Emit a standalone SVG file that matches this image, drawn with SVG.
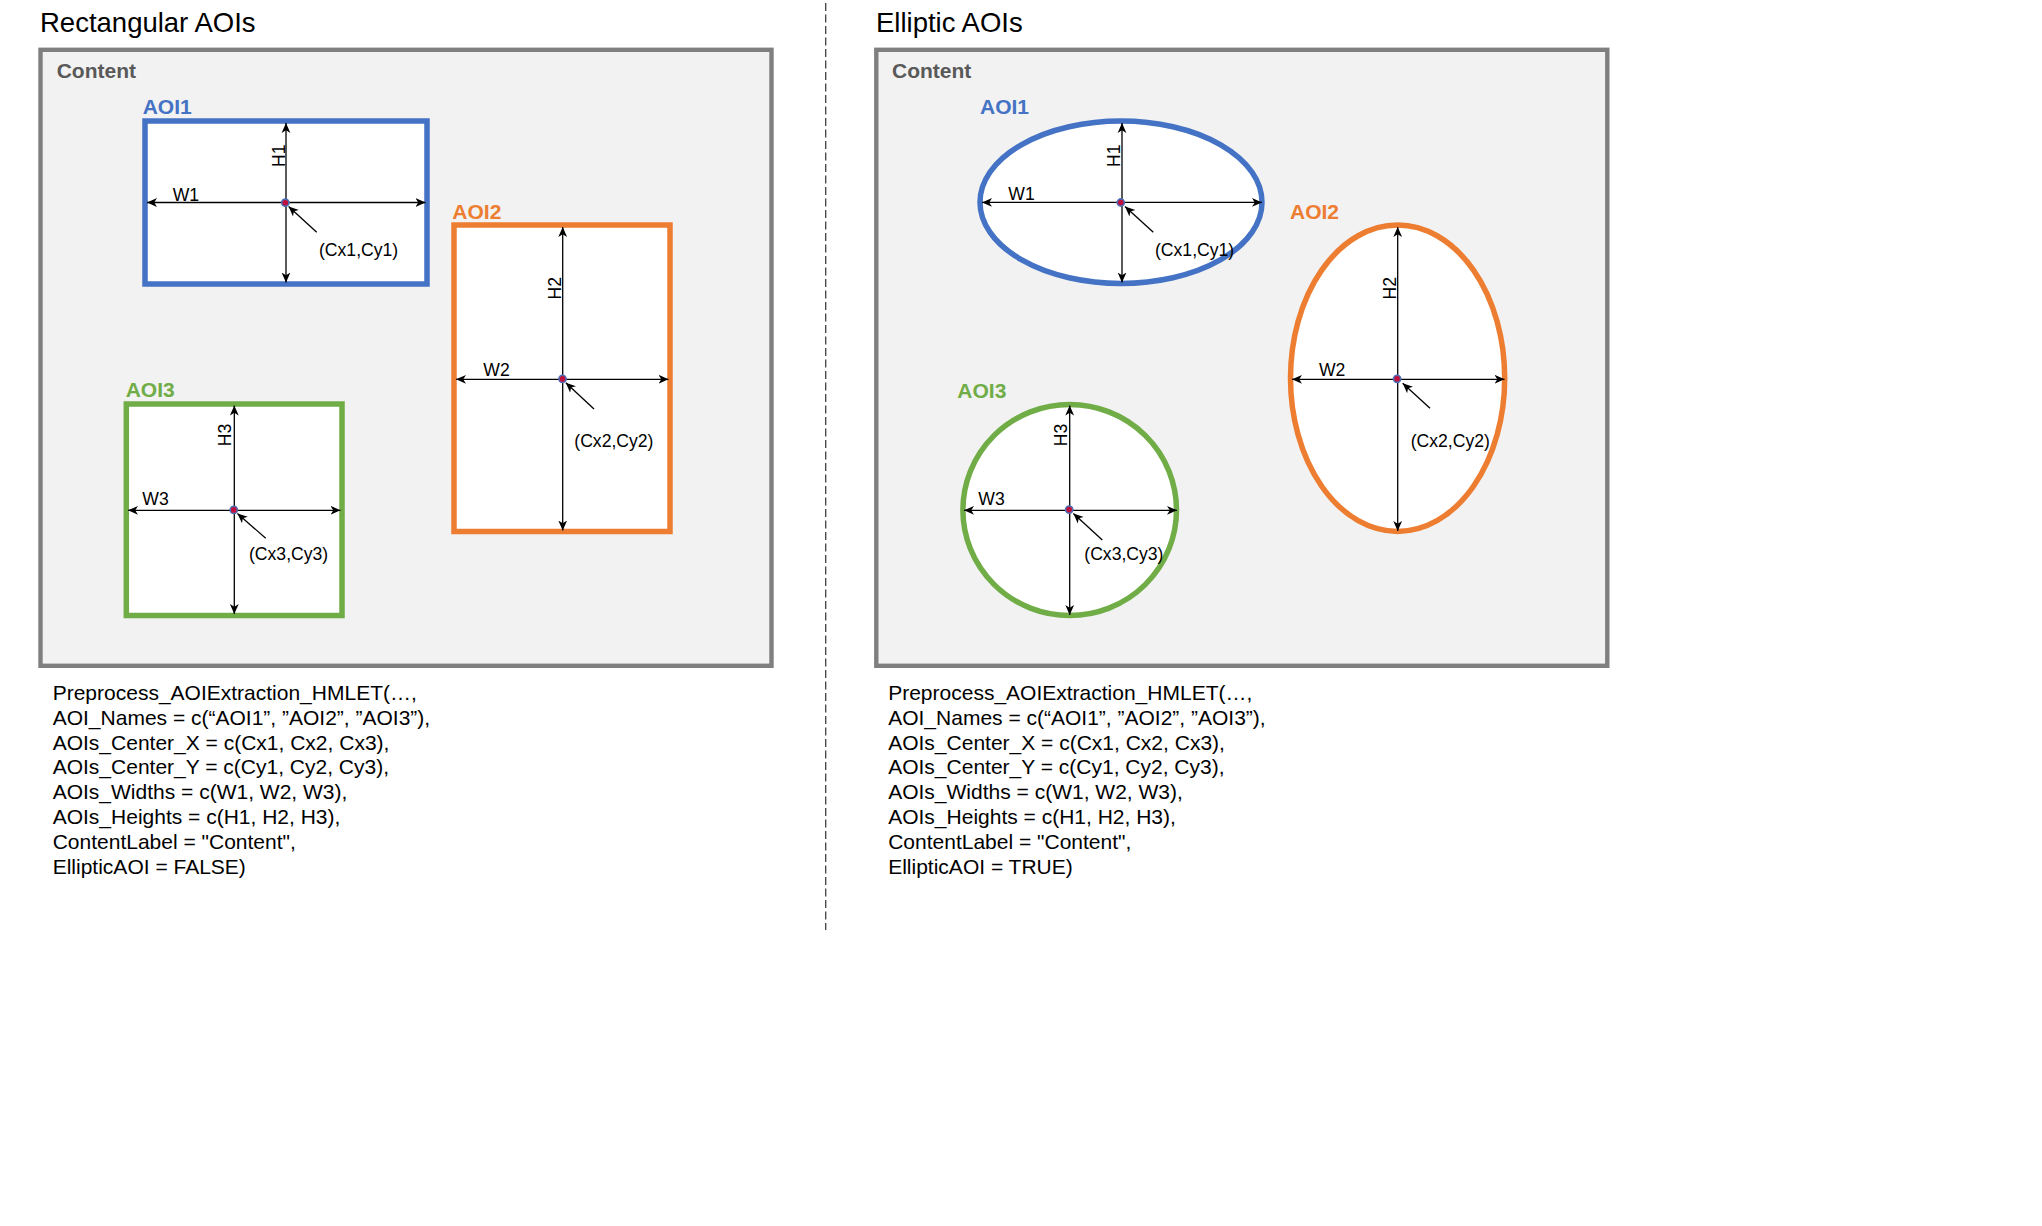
<svg xmlns="http://www.w3.org/2000/svg" width="2042" height="1226" viewBox="0 0 2042 1226">
<style>
.title{font-family:"Liberation Sans",Arial,sans-serif;font-size:27.5px;fill:#000}
.content{font-family:"Liberation Sans",Arial,sans-serif;font-size:21px;font-weight:bold;fill:#595959}
.aoi{font-family:"Liberation Sans",Arial,sans-serif;font-size:21px;font-weight:bold}
.lbl{font-family:"Liberation Sans",Arial,sans-serif;font-size:17.6px;fill:#000}
.code{font-family:"Liberation Sans",Arial,sans-serif;font-size:21px;fill:#000}
.box{fill:#f2f2f2;stroke:#7f7f7f;stroke-width:4.4}
.shape{fill:#fff;stroke-width:5.5}
.blue{stroke:#4472c4}.orange{stroke:#ed7d31}.green{stroke:#70ad47}
.tblue{fill:#4472c4}.torange{fill:#ed7d31}.tgreen{fill:#70ad47}
.dim{stroke:#000;stroke-width:1.3;fill:none;marker-start:url(#ah);marker-end:url(#ah)}
.ptr{stroke:#000;stroke-width:1.3;fill:none;marker-end:url(#ah)}
.dot{fill:#c0103c;stroke:#4f6db5;stroke-width:1.6}
</style>
<defs>
<marker id="ah" viewBox="0 0 10 10" refX="10" refY="5" markerWidth="10" markerHeight="10" markerUnits="userSpaceOnUse" orient="auto-start-reverse">
<path d="M0,0.6 L10,5 L0,9.4 L2.8,5 z" fill="#000"/>
</marker>
</defs>
<rect width="2042" height="1226" fill="#fff"/>

<g id="divider">
<line x1="825.7" y1="3" x2="825.7" y2="930" stroke="#404040" stroke-width="1.3" stroke-dasharray="8 3.5"/>
</g>

<!-- Left panel -->
<g id="left-panel">
<text class="title" x="40" y="31.7">Rectangular AOIs</text>
<g id="left-content">
<rect class="box" x="40.5" y="49.8" width="731" height="616"/>
<text class="content" x="56.7" y="77.7">Content</text>
</g>
<g id="left-aoi1">
<text class="aoi tblue" x="142.7" y="114.3">AOI1</text>
<rect class="shape blue" x="145" y="121" width="282" height="163"/>
<text class="lbl" x="172.7" y="200.7">W1</text>
<text class="lbl" transform="translate(284.5,167) rotate(-90)">H1</text>
<text class="lbl" x="319" y="255.7">(Cx1,Cy1)</text>
</g>
<g id="left-aoi2">
<text class="aoi torange" x="452.3" y="219.3">AOI2</text>
<rect class="shape orange" x="454" y="225" width="216" height="306.5"/>
<text class="lbl" x="483.3" y="375.7">W2</text>
<text class="lbl" transform="translate(560.5,299.5) rotate(-90)">H2</text>
<text class="lbl" x="574.3" y="447.3">(Cx2,Cy2)</text>
</g>
<g id="left-aoi3">
<text class="aoi tgreen" x="125.7" y="396.7">AOI3</text>
<rect class="shape green" x="126.3" y="404" width="215.7" height="211.5"/>
<text class="lbl" x="142.3" y="505.3">W3</text>
<text class="lbl" transform="translate(230.5,446.2) rotate(-90)">H3</text>
<text class="lbl" x="249" y="560">(Cx3,Cy3)</text>
</g>
<g id="left-code">
<text class="code" x="52.7" y="700">Preprocess_AOIExtraction_HMLET(…,</text>
<text class="code" x="52.7" y="724.8">AOI_Names = c(“AOI1”, ”AOI2”, ”AOI3”),</text>
<text class="code" x="52.7" y="749.6">AOIs_Center_X = c(Cx1, Cx2, Cx3),</text>
<text class="code" x="52.7" y="774.4">AOIs_Center_Y = c(Cy1, Cy2, Cy3),</text>
<text class="code" x="52.7" y="799.2">AOIs_Widths = c(W1, W2, W3),</text>
<text class="code" x="52.7" y="824">AOIs_Heights = c(H1, H2, H3),</text>
<text class="code" x="52.7" y="848.8">ContentLabel = "Content",</text>
<text class="code" x="52.7" y="873.6">EllipticAOI = FALSE)</text>
</g>
</g>

<!-- Right panel -->
<g id="right-panel">
<text class="title" x="876" y="32.3">Elliptic AOIs</text>
<g id="right-content">
<rect class="box" x="876.3" y="49.8" width="731" height="616"/>
<text class="content" x="892" y="77.7">Content</text>
</g>
<g id="right-aoi1">
<text class="aoi tblue" x="980" y="114.3">AOI1</text>
<ellipse class="shape blue" cx="1121" cy="202.2" rx="141" ry="81.2"/>
<text class="lbl" x="1008.3" y="200">W1</text>
<text class="lbl" transform="translate(1120,167) rotate(-90)">H1</text>
<text class="lbl" x="1155" y="255.5">(Cx1,Cy1)</text>
</g>
<g id="right-aoi2">
<text class="aoi torange" x="1290" y="219.3">AOI2</text>
<ellipse class="shape orange" cx="1397.6" cy="378.2" rx="107.1" ry="153.2"/>
<text class="lbl" x="1319" y="375.7">W2</text>
<text class="lbl" transform="translate(1396,299.5) rotate(-90)">H2</text>
<text class="lbl" x="1410.7" y="447.3">(Cx2,Cy2)</text>
</g>
<g id="right-aoi3">
<text class="aoi tgreen" x="957.3" y="398.3">AOI3</text>
<ellipse class="shape green" cx="1069.7" cy="510" rx="106.8" ry="105.5"/>
<text class="lbl" x="978.3" y="505.3">W3</text>
<text class="lbl" transform="translate(1066.5,446.2) rotate(-90)">H3</text>
<text class="lbl" x="1084.3" y="560">(Cx3,Cy3)</text>
</g>
<g id="right-code">
<text class="code" x="888.2" y="700">Preprocess_AOIExtraction_HMLET(…,</text>
<text class="code" x="888.2" y="724.8">AOI_Names = c(“AOI1”, ”AOI2”, ”AOI3”),</text>
<text class="code" x="888.2" y="749.6">AOIs_Center_X = c(Cx1, Cx2, Cx3),</text>
<text class="code" x="888.2" y="774.4">AOIs_Center_Y = c(Cy1, Cy2, Cy3),</text>
<text class="code" x="888.2" y="799.2">AOIs_Widths = c(W1, W2, W3),</text>
<text class="code" x="888.2" y="824">AOIs_Heights = c(H1, H2, H3),</text>
<text class="code" x="888.2" y="848.8">ContentLabel = "Content",</text>
<text class="code" x="888.2" y="873.6">EllipticAOI = TRUE)</text>
</g>
</g>

<g id="connectors">
<!-- left AOI1 -->
<line class="dim" x1="147" y1="202.5" x2="425.5" y2="202.5"/>
<line class="dim" x1="286" y1="123" x2="286" y2="282.5"/>
<line class="ptr" x1="316.7" y1="232.3" x2="288.6" y2="206.5"/>
<!-- left AOI2 -->
<line class="dim" x1="456" y1="379.3" x2="668.5" y2="379.3"/>
<line class="dim" x1="562.7" y1="227" x2="562.7" y2="530.5"/>
<line class="ptr" x1="594" y1="409" x2="565.8" y2="382.7"/>
<!-- left AOI3 -->
<line class="dim" x1="128" y1="510.3" x2="340.5" y2="510.3"/>
<line class="dim" x1="234.3" y1="405.5" x2="234.3" y2="614"/>
<line class="ptr" x1="265.7" y1="538.3" x2="237.4" y2="513.4"/>
<!-- right AOI1 -->
<line class="dim" x1="982" y1="202.4" x2="1262" y2="202.4"/>
<line class="dim" x1="1122" y1="123" x2="1122" y2="282.5"/>
<line class="ptr" x1="1153.3" y1="232.3" x2="1125" y2="206.6"/>
<!-- right AOI2 -->
<line class="dim" x1="1292" y1="379.3" x2="1504.5" y2="379.3"/>
<line class="dim" x1="1397.7" y1="227" x2="1397.7" y2="531"/>
<line class="ptr" x1="1430" y1="408.3" x2="1402.7" y2="383.3"/>
<!-- right AOI3 -->
<line class="dim" x1="964" y1="510.3" x2="1177" y2="510.3"/>
<line class="dim" x1="1069.7" y1="405.5" x2="1069.7" y2="615"/>
<line class="ptr" x1="1102.3" y1="540" x2="1073.4" y2="513.4"/>
</g>

<g id="centers">
<circle class="dot" cx="285.3" cy="202.7" r="3.6"/>
<circle class="dot" cx="562.5" cy="378.9" r="3.6"/>
<circle class="dot" cx="233.8" cy="509.9" r="3.6"/>
<circle class="dot" cx="1120.8" cy="202.5" r="3.6"/>
<circle class="dot" cx="1397.1" cy="378.8" r="3.6"/>
<circle class="dot" cx="1069.2" cy="509.6" r="3.6"/>
</g>
</svg>
